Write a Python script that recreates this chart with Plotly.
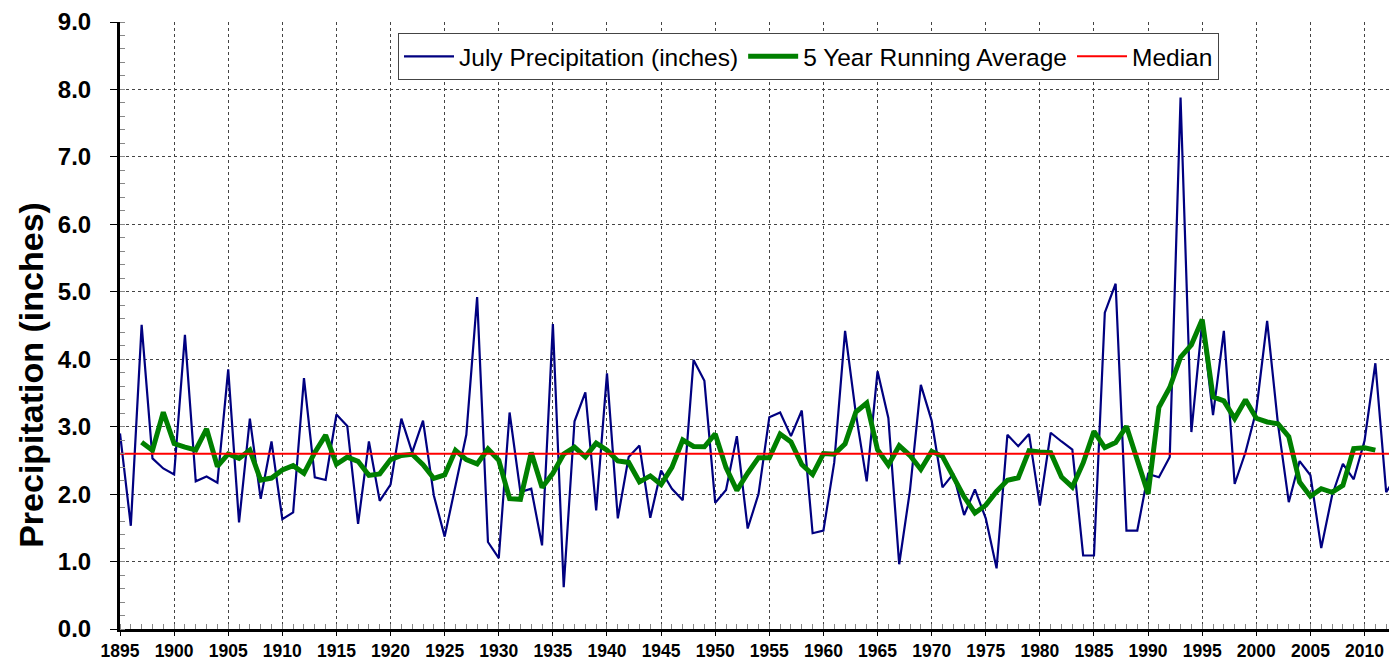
import plotly.graph_objects as go
import pandas as pd

years = list(range(1895, 2014))
july_precip = [
    2.90, 1.53, 4.51, 2.53, 2.38, 2.29, 4.36, 2.19, 2.26, 2.17,  # 1895-1904
    3.85, 1.58, 3.12, 1.93, 2.78, 1.63, 1.73, 3.72, 2.25, 2.21,  # 1905-1914
    3.18, 3.01, 1.56, 2.78, 1.90, 2.14, 3.12, 2.62, 3.09, 1.98,  # 1915-1924
    1.37, 2.10, 2.88, 4.92, 1.29, 1.05, 3.21, 2.03, 2.08, 1.24,  # 1925-1934
    4.52, 0.62, 3.08, 3.51, 1.76, 3.79, 1.64, 2.55, 2.72, 1.65,  # 1935-1944
    2.35, 2.08, 1.91, 3.99, 3.68, 1.87, 2.06, 2.86, 1.49, 2.00,  # 1945-1954
    3.14, 3.21, 2.86, 3.24, 1.42, 1.46, 2.47, 4.42, 3.19, 2.19,  # 1955-1964
    3.82, 3.13, 0.96, 2.06, 3.62, 3.09, 2.10, 2.30, 1.69, 2.07,  # 1965-1974
    1.64, 0.90, 2.88, 2.71, 2.89, 1.83, 2.91, 2.78, 2.66, 1.09,  # 1975-1984
    1.09, 4.69, 5.12, 1.46, 1.46, 2.30, 2.25, 2.55, 7.88, 2.92,  # 1985-1994
    4.55, 3.17, 4.42, 2.15, 2.62, 3.24, 4.57, 3.04, 1.88, 2.49,  # 1995-2004
    2.28, 1.20, 1.98, 2.45, 2.22, 2.79, 3.94, 2.03, 2.28,        # 2005-2013
]
median_value = 2.60
x_tick_vals = list(range(1895, 2015, 5))
y_tick_vals = [i * 1.0 for i in range(0, 10)]
y_tick_text = [f"{v:.1f}" for v in y_tick_vals]
y_title = "Precipitation (inches)"

running_avg = pd.Series(july_precip).rolling(5, center=True).mean().tolist()

FONT = "Liberation Sans, Arial, sans-serif"

fig = go.Figure()
fig.add_trace(go.Scatter(
    x=years, y=july_precip, mode="lines",
    name="July Precipitation (inches)",
    line=dict(color="#000080", width=2.2),
))
fig.add_trace(go.Scatter(
    x=years, y=running_avg, mode="lines",
    name="5 Year Running Average",
    line=dict(color="#008000", width=5),
))
fig.add_trace(go.Scatter(
    x=[years[0], years[-1]], y=[median_value, median_value], mode="lines",
    name="Median",
    line=dict(color="#FF0000", width=2),
))

# page body has an 8px margin, so the figure is sized to fill the window
fig.update_layout(
    width=1389, height=657,
    margin=dict(l=112, r=0, t=12, b=36),
    paper_bgcolor="white", plot_bgcolor="white",
    font=dict(family=FONT, color="black"),
    showlegend=True,
    legend=dict(
        orientation="h",
        x=0.2177, y=0.982, xanchor="left", yanchor="top",
        font=dict(size=24.5, family=FONT),
        bgcolor="white", bordercolor="#444", borderwidth=1,
        itemwidth=50, tracegroupgap=0,
    ),
    annotations=[dict(
        text=y_title, textangle=-90, showarrow=False,
        xref="paper", yref="paper", x=-0.0697, y=0.4187,
        xanchor="center", yanchor="middle",
        font=dict(size=34, weight="bold", family=FONT, color="black"),
    )],
)
fig.update_xaxes(
    range=[1895, 2013],
    tickmode="array", tickvals=x_tick_vals, ticktext=[str(v) for v in x_tick_vals],
    tickfont=dict(size=17.5, weight="bold"),
    showgrid=True, gridcolor="#444", griddash="dot", gridwidth=1,
    showline=True, linecolor="black", linewidth=3,
    ticks="outside", ticklen=4, tickcolor="black",
    minor=dict(dtick=1, tick0=1895, ticks="inside", ticklen=5, tickcolor="#888", showgrid=False),
    zeroline=False, ticklabeloverflow="allow",
)
fig.update_yaxes(
    range=[0, 9],
    tickmode="array", tickvals=y_tick_vals, ticktext=y_tick_text,
    tickfont=dict(size=24, weight="bold"),
    showgrid=True, gridcolor="#444", griddash="dot", gridwidth=1,
    showline=True, linecolor="black", linewidth=3,
    ticks="outside", ticklen=7, tickcolor="black", ticklabelstandoff=14,
    minor=dict(dtick=0.2, tick0=0, ticks="inside", ticklen=5, tickcolor="#888", showgrid=False),
    zeroline=False, ticklabeloverflow="allow",
)

fig.write_html("out.html")
